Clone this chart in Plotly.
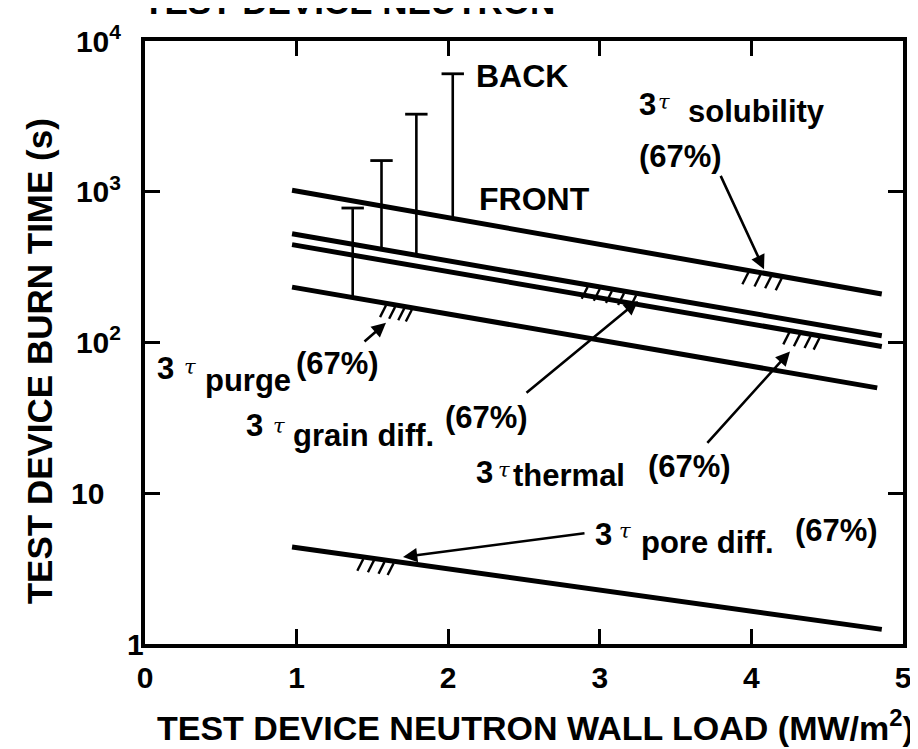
import math
import plotly.graph_objects as go

# ---------------- data ----------------
line_names = ["solubility", "grain diff.", "thermal", "purge", "pore diff."]
line_x_start = [0.97, 0.97, 0.97, 0.97, 0.97]
line_x_end = [4.86, 4.86, 4.86, 4.83, 4.86]
line_y_start = [1023, 526, 446, 233, 4.4]
line_y_end = [210, 111, 94, 50, 1.25]

bar_x = [1.37, 1.56, 1.79, 2.03]
bar_low = [200, 418, 382, 664]
bar_high = [780, 1610, 3270, 6060]

x_tick_vals = [0, 1, 2, 3, 4, 5]
x_tick_text = ["0", "1", "2", "3", "4", "5"]
y_tick_vals = [1, 10, 100, 1000, 10000]
y_tick_text = ["", "10\u00a0\u00a0", "10<sup>2</sup>", "10<sup>3</sup>", "10<sup>4</sup>"]

# hatch marks: (line index, x positions along the line)
hatch_groups = [
    (0, [3.98, 4.06, 4.13, 4.20]),
    (2, [4.25, 4.32, 4.39, 4.45]),
    (3, [1.59, 1.65, 1.71, 1.76]),
    (1, [2.92, 3.00, 3.08, 3.16, 3.24]),
    (4, [1.44, 1.51, 1.58, 1.64]),
]

# ---------------- layout geometry ----------------
W, H = 918, 749
L, R, T, B = 137, 895, 26, 636
FONT = "Liberation Sans"
PX_PER_X = (R - L) / 5.0
PX_PER_DEC = (B - T) / 4.0


def px(x):
    return (x - L) / (R - L)


def py(y):
    return (B - y) / (B - T)


def on_line(i, x):
    x0, x1 = line_x_start[i], line_x_end[i]
    l0, l1 = math.log10(line_y_start[i]), math.log10(line_y_end[i])
    return 10 ** (l0 + (l1 - l0) * (x - x0) / (x1 - x0))


fig = go.Figure()

for i, name in enumerate(line_names):
    fig.add_trace(go.Scatter(
        x=[line_x_start[i], line_x_end[i]],
        y=[line_y_start[i], line_y_end[i]],
        mode="lines", name=name,
        line=dict(color="black", width=5),
        showlegend=False, hoverinfo="skip"))

bx, by = [], []
for x, lo, hi in zip(bar_x, bar_low, bar_high):
    bx += [x, x, None]
    by += [lo, hi, None]
fig.add_trace(go.Scatter(x=bx, y=by, mode="lines",
                         line=dict(color="black", width=2.6),
                         showlegend=False, hoverinfo="skip"))
fig.add_trace(go.Scatter(x=bar_x, y=bar_high, mode="markers",
                         marker=dict(symbol="line-ew", size=16,
                                     line=dict(color="black", width=2.8)),
                         showlegend=False, hoverinfo="skip"))

# hatch ticks hanging below the lines (offsets in pixels converted to data units)
hx, hy = [], []
for li, xs in hatch_groups:
    for x in xs:
        yl = on_line(li, x)
        hx += [x, x - 6 / PX_PER_X, None]
        hy += [yl * 10 ** (-2 / PX_PER_DEC), yl * 10 ** (-14 / PX_PER_DEC), None]
fig.add_trace(go.Scatter(x=hx, y=hy, mode="lines",
                         line=dict(color="black", width=2.4),
                         showlegend=False, hoverinfo="skip"))

ann = []


def text(t, x, y, size=31, xanchor="center", yanchor="middle", italic=False, family=FONT, weight="bold"):
    ann.append(dict(text=t, x=px(x), y=py(y), xref="paper", yref="paper",
                    showarrow=False, xanchor=xanchor, yanchor=yanchor,
                    font=dict(family=family, size=size, color="black",
                              weight=weight, style="italic" if italic else "normal")))


def arrow(tail, tip):
    ann.append(dict(text="", x=px(tip[0]), y=py(tip[1]), xref="paper", yref="paper",
                    ax=tail[0] - tip[0], ay=tail[1] - tip[1],
                    showarrow=True, arrowhead=2, arrowsize=1.1, arrowwidth=2.6,
                    arrowcolor="black", standoff=0, startstandoff=0))


def tau_label(p3, ptau, word, pword, p67):
    text("3", *p3)
    text("\u03c4", *ptau, size=21, italic=True, family="DejaVu Serif", weight="normal")
    text(word, *pword, xanchor="left")
    text("(67%)", *p67)


tau_label((639, 90), (656, 88), "solubility", (678, 97), (672, 143))
tau_label((157, 357), (182, 356), "purge", (195, 369), (329, 352))
tau_label((246, 415), (271, 415), "grain diff.", (283, 425), (478, 407))
tau_label((476, 463), (496, 460), "thermal", (503, 466), (681, 456))
tau_label((595, 525), (617, 522), "pore diff.", (631, 533), (828, 521))

text("BACK", 514, 61, size=32)
text("FRONT", 526, 186, size=32)

arrow((712, 162), (756, 257))
arrow((355, 331), (378, 311))
arrow((517, 382), (630, 289))
arrow((698, 433), (782, 340))
arrow((578, 524), (395, 548))

# y tick label "1" sits just off the corner
text("1", 127, 637, size=30)

# axis titles
text("TEST DEVICE NEUTRON WALL LOAD (MW/m<sup>2</sup>)", 527, 718, size=34)
ann.append(dict(text="TEST DEVICE BURN TIME (s)", x=px(31), y=py(350),
                xref="paper", yref="paper", showarrow=False, textangle=-90,
                xanchor="center", yanchor="middle",
                font=dict(family=FONT, size=35, color="black", weight="bold")))
# clipped heading remnant at the very top
text("TEST DEVICE NEUTRON", 133, 8, size=35, xanchor="left", yanchor="bottom")

fig.update_layout(
    width=W, height=H,
    margin=dict(l=L, r=W - R, t=T, b=H - B),
    paper_bgcolor="white", plot_bgcolor="white",
    annotations=ann,
    xaxis=dict(range=[0, 5], tickvals=x_tick_vals, ticktext=x_tick_text,
               showgrid=False, zeroline=False, showline=True, linewidth=4,
               linecolor="black", mirror="ticks", ticks="inside", ticklen=15,
               tickwidth=3, tickcolor="black", ticklabelstandoff=4,
               tickfont=dict(family=FONT, size=30, color="black", weight="bold")),
    yaxis=dict(type="log", range=[0, 4], tickvals=y_tick_vals, ticktext=y_tick_text,
               showgrid=False, zeroline=False, showline=True, linewidth=4,
               linecolor="black", mirror="ticks", ticks="inside", ticklen=15,
               tickwidth=3, tickcolor="black", ticklabelstandoff=14,
               tickfont=dict(family=FONT, size=30, color="black", weight="bold")),
)

fig.write_html("out.html")
